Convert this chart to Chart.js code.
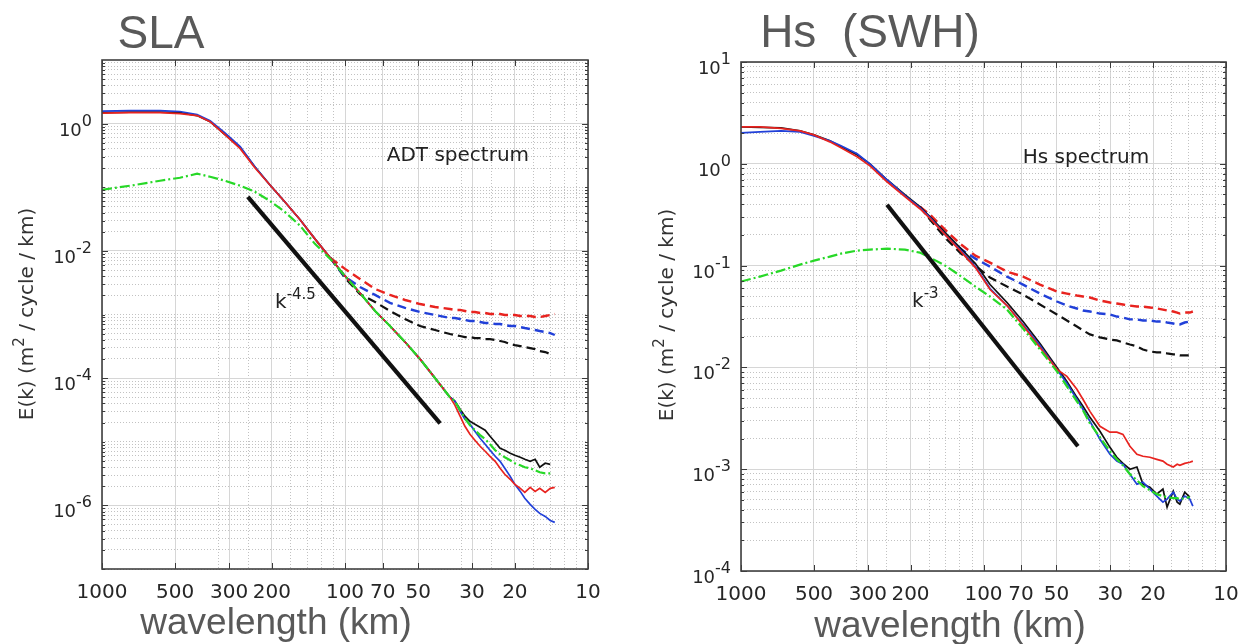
<!DOCTYPE html>
<html>
<head>
<meta charset="utf-8">
<script src="https://cdn.jsdelivr.net/npm/chart.js@4/dist/chart.umd.min.js"></script>
<style>
  html, body { margin: 0; padding: 0; background: #fff; }
  canvas { position: absolute; top: 0; }
  #slaChart { left: 0; }
  #hsChart { left: 624px; }
</style>
</head>
<body>
<canvas id="slaChart" width="624" height="644"></canvas>
<canvas id="hsChart" width="624" height="644"></canvas>
<script>
// tick labels (wavelength, km) and dotted minor grid positions
const xMajorTicks = [1000, 500, 300, 200, 100, 70, 50, 30, 20, 10];
const xMinorTicks = [333, 250, 167, 143, 125, 111, 33.3, 25, 16.7, 14.3, 12.5, 11.1];
const slaYLabelExp = [0, -2, -4, -6];
const hsYLabelExp = [1, 0, -1, -2, -3, -4];

// ---- SLA panel ----
const slaWavelength = [1000, 767, 577, 478, 406, 359, 312, 270, 235, 204, 177, 153, 133, 115, 100, 86.8, 75.2, 65.3, 56.6, 49.1, 42.6, 37.0,
  35.3, 33.6, 32.1, 30.6, 29.2, 27.8, 26.5, 25.3, 24.1, 23.0, 22.0, 20.9, 20.0, 19.0, 18.2, 17.3, 16.5, 15.8, 15.0, 14.3, 13.7];
const slaBlack = [1.49, 1.52, 1.52, 1.49, 1.34, 1.075, 0.671, 0.419, 0.2103, 0.1095, 0.0591, 0.0308, 0.01545, 0.00776, 0.00404, 0.00218, 0.001136, 6.59e-4, 3.69e-4, 1.99e-4, 1.0e-4, 5.02e-5,
  4.34e-5, 3.25e-5, 2.52e-5, 2.10e-5, 1.89e-5, 1.69e-5, 1.52e-5, 1.22e-5, 9.82e-6, 7.9e-6, 7.35e-6, 6.59e-6, 6.13e-6, 5.70e-6, 5.30e-6, 4.93e-6, 5.30e-6, 3.97e-6, 4.59e-6, 4.42e-6, null];
const slaBlue = [1.57, 1.60, 1.60, 1.55, 1.39, 1.115, 0.717, 0.434, 0.2103, 0.1095, 0.0591, 0.0308, 0.01545, 0.00776, 0.00404, 0.00218, 0.001136, 6.59e-4, 3.69e-4, 1.99e-4, 1.0e-4, 5.02e-5,
  4.34e-5, 3.02e-5, 2.26e-5, 1.89e-5, 1.46e-5, 1.135e-5, 9.13e-6, 7.35e-6, 5.91e-6, 4.93e-6, 3.83e-6, 2.86e-6, 2.14e-6, 1.66e-6, 1.29e-6, 1.037e-6, 8.65e-7, 7.48e-7, 6.71e-7, 5.80e-7, 5.40e-7];
const slaRed = [1.46, 1.49, 1.49, 1.44, 1.34, 1.075, 0.671, 0.404, 0.203, 0.1095, 0.0591, 0.0308, 0.01545, 0.00776, 0.00404, 0.00218, 0.001136, 6.59e-4, 3.69e-4, 1.99e-4, 1.0e-4, 5.02e-5,
  3.76e-5, 2.52e-5, 1.75e-5, 1.31e-5, 1.056e-5, 8.49e-6, 7.09e-6, 5.91e-6, 4.93e-6, 3.83e-6, 3.08e-6, 2.57e-6, 2.14e-6, 1.85e-6, 1.60e-6, 1.92e-6, 1.66e-6, 1.85e-6, 1.60e-6, 1.85e-6, 1.92e-6];
const slaGreen = [0.0913, 0.1056, 0.1266, 0.1411, 0.1632, 0.1463, 0.1266, 0.1056, 0.0849, 0.0613, 0.0411, 0.0248, 0.0129, 0.00748, 0.00404, 0.00218, 0.001136, 6.59e-4, 3.69e-4, 1.99e-4, 1.0e-4, 5.02e-5,
  4.34e-5, 3.13e-5, 2.34e-5, 1.82e-5, 1.52e-5, 1.27e-5, 1.095e-5, 9.13e-6, 7.35e-6, 6.35e-6, 5.70e-6, 5.11e-6, 4.59e-6, 4.26e-6, 3.97e-6, 3.83e-6, 3.56e-6, 3.31e-6, 3.19e-6, 3.19e-6, null];
const slaRedDashed = [null, null, null, null, null, null, null, null, null, null, null, null, null,
  0.00776, 0.00521, 0.00362, 0.00252, 0.00203, 0.00169, 0.00146, 0.00131, 0.00122,
  0.00118, 0.00118, 0.001136, 0.001095, 0.001095, 0.001056, 0.001056, 0.001018, 0.001018, 0.001018, 9.82e-4, 9.82e-4, 9.82e-4, 9.47e-4, 9.47e-4, 9.47e-4, 9.13e-4, 9.13e-4, 9.47e-4, 9.82e-4, 0.001018];
const slaBlueDashed = [null, null, null, null, null, null, null, null, null, null, null, null, null,
  0.00776, 0.00390, 0.00271, 0.00203, 0.00152, 0.00127, 0.001095, 9.82e-4, 8.81e-4,
  8.81e-4, 8.49e-4, 8.19e-4, 7.90e-4, 7.90e-4, 7.62e-4, 7.35e-4, 7.35e-4, 7.09e-4, 7.09e-4, 6.83e-4, 6.59e-4, 6.59e-4, 6.35e-4, 6.13e-4, 5.91e-4, 5.70e-4, 5.50e-4, 5.30e-4, 5.11e-4, 4.76e-4];
const slaBlackDashed = [null, null, null, null, null, null, null, null, null, null, null, null, null,
  0.00776, 0.00376, 0.00210, 0.00157, 0.001136, 8.49e-4, 6.59e-4, 5.70e-4, 4.93e-4,
  4.76e-4, 4.59e-4, 4.42e-4, 4.42e-4, 4.26e-4, 4.26e-4, 4.11e-4, 4.11e-4, 3.97e-4, 3.83e-4, 3.69e-4, 3.43e-4, 3.31e-4, 3.19e-4, 3.08e-4, 2.97e-4, 2.86e-4, 2.66e-4, 2.57e-4, 2.39e-4, null];
const slaSlopeWavelength = [251, 40.6];
const slaSlope = [0.0708, 1.95e-5];

// ---- Hs panel ----
const hsWavelength = [1000, 835, 684, 571, 500, 430, 387, 332, 294, 250, 211, 183, 166, 144, 125, 108, 94.0, 80.0, 68.7, 58.5,
  49.8, 45.3, 41.2, 38.9, 36.4, 33.1, 30.1, 28.2, 26.6, 24.9, 23.3, 22.0, 20.6, 19.3, 18.2, 17.5, 16.5, 15.9, 15.5, 14.8, 14.1, 13.7];
const hsBlack = [2.305, 2.279, 2.254, 2.106, 1.924, 1.681, 1.468, 1.225, 1.0, 0.697, 0.497, 0.379, 0.302, 0.2106, 0.1501, 0.1046, 0.0651, 0.0434, 0.0282, 0.0172,
  0.0100, 0.00729, 0.00508, 0.00415, 0.00323, 0.00236, 0.00164, 0.00131, 0.00114, 0.00100, 0.00105, 7.13e-4, 6.66e-4, 5.69e-4, 6.37e-4, 4.24e-4, 6.09e-4, 4.75e-4, 4.54e-4, 5.95e-4, 5.31e-4, null];
const hsBlue = [2.013, 2.059, 2.106, 2.059, 1.882, 1.681, 1.501, 1.253, 1.0, 0.697, 0.486, 0.370, 0.296, 0.2013, 0.1435, 0.0977, 0.0595, 0.0405, 0.0264, 0.0164,
  0.00956, 0.00697, 0.00486, 0.00388, 0.00296, 0.00197, 0.00140, 0.00120, 0.00112, 8.93e-4, 7.13e-4, 7.46e-4, 6.37e-4, 5.44e-4, 4.75e-4, 5.08e-4, 5.95e-4, 5.08e-4, 4.86e-4, 5.44e-4, 5.08e-4, 4.34e-4];
const hsRed = [2.305, 2.305, 2.229, 2.106, 1.924, 1.643, 1.435, 1.171, 0.956, 0.666, 0.475, 0.362, 0.289, 0.2013, 0.1403, 0.0956, 0.0582, 0.0405, 0.0258, 0.0157,
  0.00956, 0.00816, 0.00609, 0.00486, 0.00370, 0.00264, 0.00231, 0.00231, 0.00220, 0.00168, 0.00140, 0.00134, 0.00131, 0.00125, 0.00120, 0.00112, 0.00105, 0.00112, 0.00109, 0.00114, 0.00117, 0.00120];
const hsGreen = [0.0697, 0.0780, 0.0893, 0.1023, 0.1119, 0.1225, 0.1311, 0.1403, 0.1435, 0.1468, 0.1435, 0.1341, 0.1198, 0.1, 0.0798, 0.0622, 0.0497, 0.0370, 0.0241, 0.0150,
  0.00914, 0.00651, 0.00464, 0.00379, 0.00282, 0.00206, 0.00150, 0.00125, 0.00109, 8.93e-4, 7.80e-4, 6.81e-4, 6.22e-4, 5.69e-4, 5.44e-4, 5.31e-4, 5.20e-4, 5.20e-4, 5.08e-4, 5.20e-4, 5.31e-4, null];
const hsRedDashed = [null, null, null, null, null, null, null, null, null, null, null,
  0.379, 0.316, 0.2254, 0.1643, 0.1253, 0.1070, 0.0873, 0.0780, 0.0651,
  0.0556, 0.0531, 0.0508, 0.0497, 0.0486, 0.0454, 0.0434, 0.0424, 0.0415, 0.0405,
  0.0396, 0.0396, 0.0388, 0.0379, 0.0370, 0.0362, 0.0354, 0.0346, 0.0338, 0.0346, 0.0346, 0.0354];
const hsBlueDashed = [null, null, null, null, null, null, null, null, null, null, null,
  0.379, 0.302, 0.2106, 0.1468, 0.1171, 0.0977, 0.0780, 0.0651, 0.0531,
  0.0444, 0.0405, 0.0379, 0.0362, 0.0354, 0.0338, 0.0331, 0.0316, 0.0309, 0.0296,
  0.0296, 0.0289, 0.0289, 0.0282, 0.0282, 0.0276, 0.0270, 0.0264, 0.0264, 0.0276, 0.0282, null];
const hsBlackDashed = [null, null, null, null, null, null, null, null, null, null, null,
  0.379, 0.282, 0.1882, 0.1341, 0.1, 0.0763, 0.0622, 0.0519, 0.0415,
  0.0331, 0.0289, 0.0252, 0.0231, 0.0211, 0.0197, 0.0188, 0.0184, 0.0176, 0.0168,
  0.0161, 0.0150, 0.01435, 0.01403, 0.01403, 0.01372, 0.01341, 0.01341, 0.01311, 0.01311, 0.01311, null];
const hsSlopeWavelength = [250, 40.8];
const hsSlope = [0.396, 1.68e-3];

const RED = '#e8231f', BLUE = '#2140d8', GREEN = '#27d827', BLACK = '#111111';
const FONT = '"DejaVu Sans", sans-serif';

function line(xs, ys, color, width, dash, order) {
    return {
        data: xs.map((x, i) => ({ x: x, y: ys[i] })),
        borderColor: color,
        borderWidth: width,
        borderDash: dash,
        pointRadius: 0,
        fill: false,
        tension: 0,
        spanGaps: false,
        order: order
    };
}

// decade ticks: labelled ones get a solid grid line, the rest a dotted one
function yTicks(minExp, maxExp, labelExp) {
    const major = [], minor = [];
    for (let e = minExp; e < maxExp; e++) {
        for (let m = 1; m <= 9; m++) {
            const v = m * Math.pow(10, e);
            if (m === 1 && labelExp.indexOf(e) >= 0) major.push(v); else minor.push(v);
        }
    }
    labelExp.forEach(function (e) { if (e === maxExp) major.push(Math.pow(10, e)); });
    return { major: major, minor: minor };
}

function drawRich(ctx, parts, x, y, align) {
    let total = 0;
    parts.forEach(function (p) {
        ctx.font = p.size + 'px ' + FONT;
        p.w = ctx.measureText(p.t).width;
        total += p.w;
    });
    let cx = align === 'right' ? x - total : (align === 'center' ? x - total / 2 : x);
    ctx.textAlign = 'left';
    ctx.textBaseline = 'alphabetic';
    parts.forEach(function (p) {
        ctx.font = p.size + 'px ' + FONT;
        ctx.fillText(p.t, cx, y + (p.dy || 0));
        cx += p.w;
    });
}

const decorPlugin = {
    id: 'decor',
    afterDraw(chart, args, o) {
        const ctx = chart.ctx, a = chart.chartArea;
        const sx = chart.scales.x, sy = chart.scales.y;
        ctx.save();

        // inward tick marks (MATLAB style box)
        ctx.strokeStyle = '#3a3a3a';
        ctx.lineWidth = 1;
        ctx.beginPath();
        sx.ticks.forEach(function (t) {
            const p = Math.round(sx.getPixelForValue(t.value)) + 0.5;
            ctx.moveTo(p, a.bottom); ctx.lineTo(p, a.bottom - 6);
            ctx.moveTo(p, a.top); ctx.lineTo(p, a.top + 6);
        });
        sy.ticks.forEach(function (t) {
            const p = Math.round(sy.getPixelForValue(t.value)) + 0.5;
            ctx.moveTo(a.left, p); ctx.lineTo(a.left + 6, p);
            ctx.moveTo(a.right, p); ctx.lineTo(a.right - 6, p);
        });
        chart.scales.yMinor.ticks.forEach(function (t) {
            const p = Math.round(sy.getPixelForValue(t.value)) + 0.5;
            ctx.moveTo(a.left, p); ctx.lineTo(a.left + 3, p);
            ctx.moveTo(a.right, p); ctx.lineTo(a.right - 3, p);
        });
        ctx.stroke();
        ctx.lineWidth = 1.6;
        ctx.strokeStyle = '#404040';
        ctx.strokeRect(a.left, a.top, a.right - a.left, a.bottom - a.top);

        // y tick labels 10^n
        ctx.fillStyle = '#262626';
        o.yLabelExp.forEach(function (e) {
            const p = sy.getPixelForValue(Math.pow(10, e));
            drawRich(ctx, [
                { t: '10', size: 18, dy: 12 },
                { t: String(e), size: 16, dy: 2 }
            ], a.left - 10, p, 'right');
        });

        // y axis title
        ctx.save();
        ctx.translate(o.yTitleX, o.yTitleY);
        ctx.rotate(-Math.PI / 2);
        ctx.fillStyle = '#333';
        drawRich(ctx, [
            { t: 'E(k) (m', size: 20 },
            { t: '2', size: 15, dy: -9 },
            { t: ' / cycle / km)', size: 20 }
        ], 0, 7, 'center');
        ctx.restore();

        // panel title and x axis title
        ctx.fillStyle = '#595959';
        ctx.textAlign = 'center';
        ctx.textBaseline = 'alphabetic';
        ctx.font = '46px "Liberation Sans", Arial, sans-serif';
        ctx.fillText(o.title, o.titleX, o.titleY);
        ctx.font = '37px "Liberation Sans", Arial, sans-serif';
        ctx.fillText('wavelength (km)', o.xTitleX, o.xTitleY);

        // annotations in data coordinates
        ctx.fillStyle = '#222';
        ctx.font = '20px ' + FONT;
        ctx.textBaseline = 'middle';
        ctx.fillText(o.note.text, sx.getPixelForValue(o.note.x), sy.getPixelForValue(o.note.y));
        drawRich(ctx, [
            { t: 'k', size: 20 },
            { t: o.slopeLabel.exp, size: 15, dy: -9 }
        ], sx.getPixelForValue(o.slopeLabel.x), sy.getPixelForValue(o.slopeLabel.y), 'left');
        ctx.restore();
    }
};

function makeChart(id, c) {
    const yt = yTicks(c.yMinExp, c.yMaxExp, c.yLabelExp);
    const xs = c.wavelength;
    new Chart(document.getElementById(id), {
        type: 'line',
        data: {
            datasets: [
                line(xs, c.redDashed, RED, 2.4, [9, 5], 6),
                line(xs, c.blueDashed, BLUE, 2.4, [9, 5], 6),
                line(xs, c.blackDashed, BLACK, 2.2, [9, 5], 6),
                line(xs, c.black, BLACK, 1.7, [], 4),
                line(xs, c.blue, BLUE, 1.7, [], 3),
                line(xs, c.red, RED, 1.7, [], 2),
                line(xs, c.green, GREEN, 2.2, [10, 3, 2, 3], 1),
                line(c.slopeX, c.slopeY, BLACK, 4.2, [], 0)
            ]
        },
        options: {
            responsive: false,
            animation: false,
            events: [],
            layout: { padding: c.padding },
            plugins: {
                legend: { display: false },
                tooltip: { enabled: false },
                title: { display: false },
                decor: c.decor
            },
            scales: {
                x: {
                    type: 'logarithmic',
                    position: 'bottom',
                    reverse: true,
                    min: 10,
                    max: 1000,
                    afterBuildTicks: function (s) { s.ticks = xMajorTicks.map(function (v) { return { value: v }; }); },
                    afterFit: function (s) { s.height = c.xHeight; s.paddingLeft = 0; s.paddingRight = 0; },
                    grid: { color: '#d6d6d6', lineWidth: 1, drawTicks: false },
                    border: { display: false },
                    ticks: {
                        autoSkip: false, maxRotation: 0, minRotation: 0, padding: 12,
                        color: '#262626',
                        font: { family: 'DejaVu Sans', size: 20 },
                        callback: function (v) { return String(v); }
                    }
                },
                xMinor: {
                    type: 'logarithmic',
                    position: 'bottom',
                    reverse: true,
                    min: 10,
                    max: 1000,
                    afterBuildTicks: function (s) { s.ticks = xMinorTicks.map(function (v) { return { value: v }; }); },
                    afterFit: function (s) { s.height = 0; s.paddingLeft = 0; s.paddingRight = 0; },
                    grid: { color: '#c2c2c2', lineWidth: 1, drawTicks: false },
                    border: { display: false, dash: [1, 2] },
                    ticks: { display: false }
                },
                y: {
                    type: 'logarithmic',
                    position: 'left',
                    min: Math.pow(10, c.yMinExp),
                    max: Math.pow(10, c.yMaxExp),
                    afterBuildTicks: function (s) { s.ticks = yt.major.map(function (v) { return { value: v }; }); },
                    afterFit: function (s) { s.width = c.yWidth; s.paddingTop = 0; s.paddingBottom = 0; },
                    grid: { color: '#d6d6d6', lineWidth: 1, drawTicks: false },
                    border: { display: false },
                    ticks: { display: false }
                },
                yMinor: {
                    type: 'logarithmic',
                    position: 'left',
                    min: Math.pow(10, c.yMinExp),
                    max: Math.pow(10, c.yMaxExp),
                    afterBuildTicks: function (s) { s.ticks = yt.minor.map(function (v) { return { value: v }; }); },
                    afterFit: function (s) { s.width = 0; s.paddingTop = 0; s.paddingBottom = 0; },
                    grid: { color: '#c2c2c2', lineWidth: 1, drawTicks: false },
                    border: { display: false, dash: [1, 2] },
                    ticks: { display: false }
                }
            }
        },
        plugins: [decorPlugin]
    });
}

makeChart('slaChart', {
    wavelength: slaWavelength,
    black: slaBlack, blue: slaBlue, red: slaRed, green: slaGreen,
    redDashed: slaRedDashed, blueDashed: slaBlueDashed, blackDashed: slaBlackDashed,
    slopeX: slaSlopeWavelength, slopeY: slaSlope,
    yMinExp: -7, yMaxExp: 1, yLabelExp: slaYLabelExp,
    padding: { top: 60, right: 36, bottom: 0, left: 0 },
    yWidth: 102, xHeight: 75,
    decor: {
        yLabelExp: slaYLabelExp,
        title: 'SLA', titleX: 161, titleY: 48,
        xTitleX: 276, xTitleY: 634,
        yTitleX: 26, yTitleY: 314,
        note: { text: 'ADT spectrum', x: 34.3, y: 0.313 },
        slopeLabel: { exp: '-4.5', x: 194, y: 1.26e-3 }
    }
});

makeChart('hsChart', {
    wavelength: hsWavelength,
    black: hsBlack, blue: hsBlue, red: hsRed, green: hsGreen,
    redDashed: hsRedDashed, blueDashed: hsBlueDashed, blackDashed: hsBlackDashed,
    slopeX: hsSlopeWavelength, slopeY: hsSlope,
    yMinExp: -4, yMaxExp: 1, yLabelExp: hsYLabelExp,
    padding: { top: 62, right: 22, bottom: 0, left: 0 },
    yWidth: 117, xHeight: 73,
    decor: {
        yLabelExp: hsYLabelExp,
        title: 'Hs  (SWH)', titleX: 246, titleY: 47,
        xTitleX: 326, xTitleY: 637,
        yTitleX: 42, yTitleY: 315,
        note: { text: 'Hs spectrum', x: 37.8, y: 1.145 },
        slopeLabel: { exp: '-3', x: 197, y: 0.0396 }
    }
});
</script>
</body>
</html>
